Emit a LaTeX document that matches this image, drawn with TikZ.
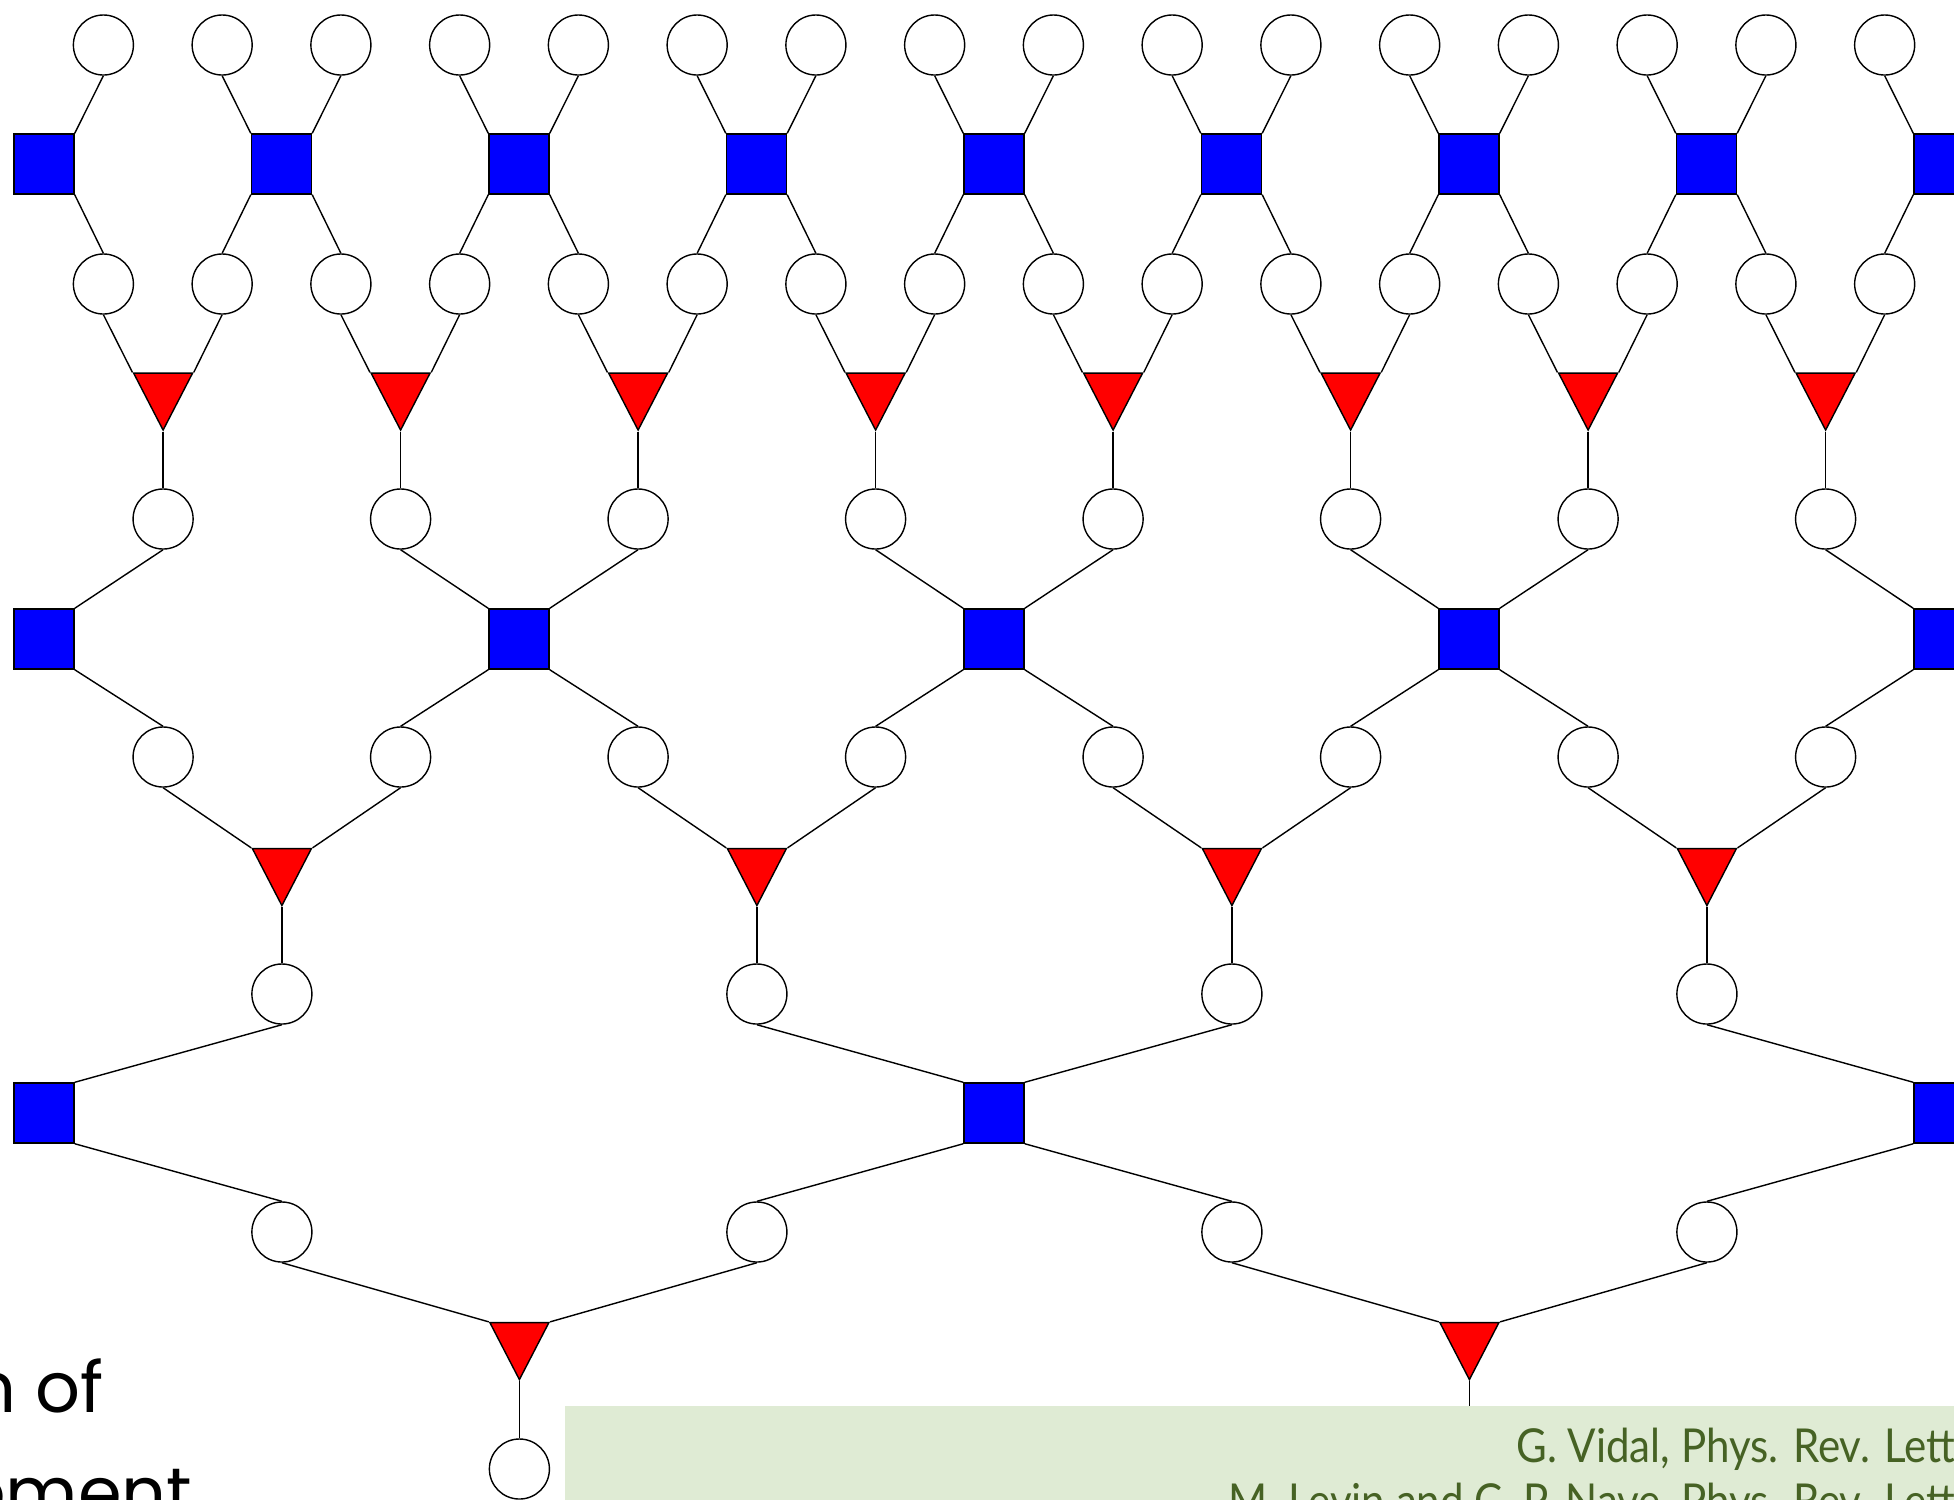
\documentclass[tikz,border=0pt]{standalone}
\usepackage{fontspec}
\newfontfamily\slidefont{Poppins}
\newfontfamily\reffont[FakeStretch=0.9]{Lato}
\usetikzlibrary{positioning,shapes.geometric}
\definecolor{refbg}{RGB}{223,235,212}
\definecolor{reftext}{RGB}{70,98,36}

\begin{document}
\begin{tikzpicture}[x=0.01cm, y=-0.01cm,
  leg/.style={draw, circle, fill=white, inner sep=0pt, minimum size=6mm},
  unitary/.style={draw, rectangle, fill=blue, inner sep=0pt, minimum size=6mm},
  isometry/.style={draw, isosceles triangle, shape border rotate=270, isosceles triangle stretches, fill=red, inner sep=0pt, minimum width=5.9mm, minimum height=5.7mm}]
  \useasboundingbox (0,0) rectangle (1954,1499);
  \clip (0,0) rectangle (1954,1499);

  % top layer: open legs and disentanglers
  \foreach \col in {0,...,15} {
    \node[leg] (a\col) at ({103.4+118.75*\col},45) {};
    \node[leg] (b\col) at ({103.4+118.75*\col},284) {};
  }
  \foreach \sq in {0,...,8}
    \node[unitary] (u\sq) at ({44+237.5*\sq},164) {};
  \foreach \sq in {1,...,8} {
    \pgfmathtruncatemacro{\lft}{2*\sq-1}
    \draw (a\lft.south) -- (u\sq.north west);
    \draw (u\sq.south west) -- (b\lft.north);
  }
  \foreach \sq in {0,...,7} {
    \pgfmathtruncatemacro{\rgt}{2*\sq}
    \draw (a\rgt.south) -- (u\sq.north east);
    \draw (u\sq.south east) -- (b\rgt.north);
  }

  % first layer of isometries
  \foreach \tr in {0,...,7} {
    \pgfmathtruncatemacro{\lft}{2*\tr}
    \pgfmathtruncatemacro{\rgt}{2*\tr+1}
    \node[isometry] (w\tr) at ({163.1+237.5*\tr},391) {};
    \node[leg] (c\tr) at ({163.1+237.5*\tr},519) {};
    \draw (b\lft.south) -- (w\tr.right corner);
    \draw (b\rgt.south) -- (w\tr.left corner);
    \draw (w\tr.apex) -- (c\tr.north);
  }

  % second layer
  \foreach \sq in {0,...,4}
    \node[unitary] (v\sq) at ({44+475*\sq},639) {};
  \foreach \tr in {0,...,7}
    \node[leg] (d\tr) at ({163.1+237.5*\tr},757) {};
  \foreach \sq in {1,...,4} {
    \pgfmathtruncatemacro{\lft}{2*\sq-1}
    \draw (c\lft.south) -- (v\sq.north west);
    \draw (v\sq.south west) -- (d\lft.north);
  }
  \foreach \sq in {0,...,3} {
    \pgfmathtruncatemacro{\rgt}{2*\sq}
    \draw (c\rgt.south) -- (v\sq.north east);
    \draw (v\sq.south east) -- (d\rgt.north);
  }
  \foreach \tr in {0,...,3} {
    \pgfmathtruncatemacro{\lft}{2*\tr}
    \pgfmathtruncatemacro{\rgt}{2*\tr+1}
    \node[isometry] (x\tr) at ({281.9+475*\tr},866.5) {};
    \node[leg] (e\tr) at ({281.9+475*\tr},994) {};
    \draw (d\lft.south) -- (x\tr.right corner);
    \draw (d\rgt.south) -- (x\tr.left corner);
    \draw (x\tr.apex) -- (e\tr.north);
  }

  % third layer
  \foreach \sq in {0,...,2}
    \node[unitary] (y\sq) at ({44+950*\sq},1113) {};
  \foreach \tr in {0,...,3}
    \node[leg] (f\tr) at ({281.9+475*\tr},1232) {};
  \foreach \sq in {1,...,2} {
    \pgfmathtruncatemacro{\lft}{2*\sq-1}
    \draw (e\lft.south) -- (y\sq.north west);
    \draw (y\sq.south west) -- (f\lft.north);
  }
  \foreach \sq in {0,...,1} {
    \pgfmathtruncatemacro{\rgt}{2*\sq}
    \draw (e\rgt.south) -- (y\sq.north east);
    \draw (y\sq.south east) -- (f\rgt.north);
  }
  \foreach \tr in {0,...,1} {
    \pgfmathtruncatemacro{\lft}{2*\tr}
    \pgfmathtruncatemacro{\rgt}{2*\tr+1}
    \node[isometry] (z\tr) at ({519.4+950*\tr},1340.5) {};
    \draw (f\lft.south) -- (z\tr.right corner);
    \draw (f\rgt.south) -- (z\tr.left corner);
  }
  \node[leg] (g0) at (519.4,1469) {};
  \draw (z0.apex) -- (g0.north);
  \coordinate (cut) at (1469.4,1406);
  \draw (z1.apex) -- (cut);

  % reference box
  \fill[refbg] (565,1406) rectangle (1960,1505);
  \node[anchor=base east, inner sep=0pt, text=reftext, font=\reffont\fontsize{13.3}{15}\selectfont] (ref1) at (1956,1462) {G. Vidal, Phys. Rev. Lett};
  \node[anchor=base east, inner sep=0pt, text=reftext, font=\reffont\fontsize{13.3}{15}\selectfont] (ref2) at (1956,1517) {M. Levin and C. P. Nave, Phys. Rev. Lett};

  % slide title, cut off at the left
  \node[anchor=base east, inner sep=0pt, font=\slidefont\fontsize{20}{24}\selectfont] (title1) at (104,1412) {n of};
  \node[anchor=base east, inner sep=0pt, font=\slidefont\fontsize{20}{24}\selectfont] (title2) at (193,1517) {ement};
\end{tikzpicture}
\end{document}
